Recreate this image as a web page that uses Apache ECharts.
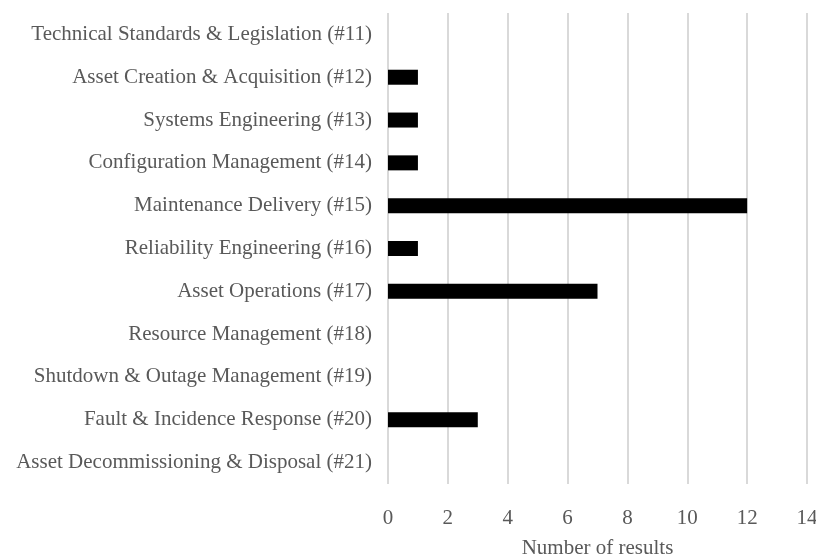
<!DOCTYPE html>
<html>
<head>
<meta charset="utf-8">
<script src="https://cdn.jsdelivr.net/npm/echarts@6/dist/echarts.min.js"></script>
<style>html,body{margin:0;padding:0;background:#fff}#c{width:816px;height:556px}</style>
</head>
<body>
<div id="c"></div>
<script>
const categories = [
  "Technical Standards & Legislation (#11)",
  "Asset Creation & Acquisition (#12)",
  "Systems Engineering (#13)",
  "Configuration Management (#14)",
  "Maintenance Delivery (#15)",
  "Reliability Engineering (#16)",
  "Asset Operations (#17)",
  "Resource Management (#18)",
  "Shutdown & Outage Management (#19)",
  "Fault & Incidence Response (#20)",
  "Asset Decommissioning & Disposal (#21)"
];
const values = [0, 1, 1, 1, 12, 1, 7, 0, 0, 3, 0];
const xAxisName = "Number of results";

const font = "'Liberation Serif', 'Times New Roman', serif";
const chart = echarts.init(document.getElementById('c'), null, {renderer: 'canvas'});
chart.setOption({
  animation: false,
  grid: {left: 388, right: 9, top: 13, bottom: 72, containLabel: false, outerBoundsMode: 'none'},
  xAxis: {
    type: 'value', min: 0, max: 14, interval: 2,
    name: xAxisName, nameLocation: 'middle', nameGap: 54,
    nameTextStyle: {fontFamily: font, fontSize: 21, color: '#595959'},
    axisLine: {show: false}, axisTick: {show: false},
    axisLabel: {fontFamily: font, fontSize: 21, color: '#595959', margin: 24},
    splitLine: {show: true, lineStyle: {color: '#d9d9d9', width: 2}}
  },
  yAxis: {
    type: 'category', data: categories, inverse: true,
    axisLine: {show: false}, axisTick: {show: false},
    axisLabel: {fontFamily: font, fontSize: 21, color: '#595959', margin: 16, padding: [4, 0, 0, 0]},
    splitLine: {show: false}
  },
  series: [{
    type: 'bar', data: values, barWidth: 15,
    itemStyle: {color: '#000000'}
  }]
});
</script>
</body>
</html>
